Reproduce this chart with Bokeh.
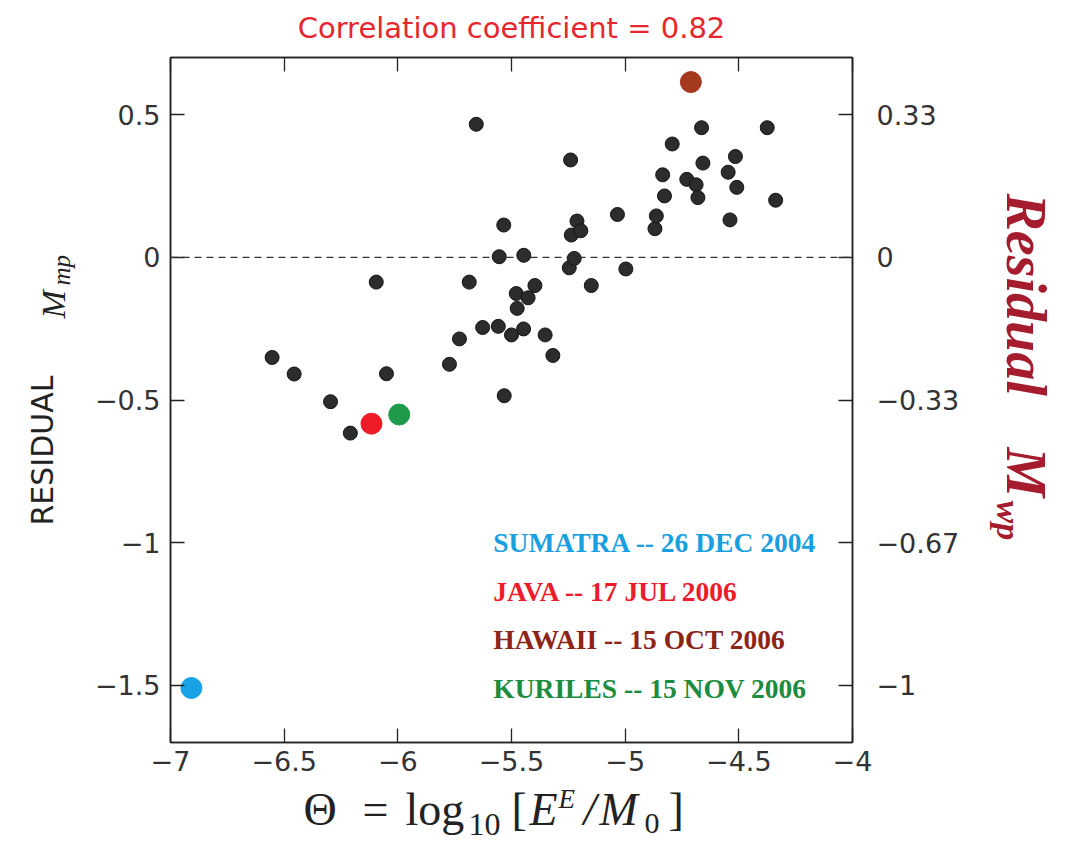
import math
from bokeh.plotting import figure
from bokeh.layouts import row, column
from bokeh.models import Range1d, LinearAxis, FixedTicker, Span, Label, ColumnDataSource
from bokeh.core.properties import value
from bokeh.embed import file_html
from bokeh.resources import INLINE

# ---------------- data ----------------
theta = [-6.553, -6.456, -6.296, -6.209, -6.095, -6.050, -5.773, -5.729, -5.686, -5.655,
         -5.627, -5.558, -5.554, -5.534, -5.532, -5.500, -5.479, -5.475, -5.447, -5.446,
         -5.427, -5.397, -5.352, -5.318, -5.240, -5.246, -5.237, -5.224, -5.212, -5.195,
         -5.149, -5.034, -4.997, -4.869, -4.863, -4.835, -4.827, -4.793, -4.729, -4.688,
         -4.680, -4.664, -4.658, -4.547, -4.539, -4.515, -4.509, -4.375, -4.338]
residual = [-0.351, -0.409, -0.506, -0.616, -0.087, -0.408, -0.375, -0.286, -0.087, 0.466,
            -0.246, -0.242, 0.002, 0.113, -0.485, -0.272, -0.127, -0.179, -0.251, 0.007,
            -0.142, -0.099, -0.272, -0.344, 0.341, -0.037, 0.078, -0.004, 0.127, 0.093,
            -0.099, 0.150, -0.041, 0.100, 0.145, 0.289, 0.215, 0.397, 0.273, 0.254,
            0.209, 0.454, 0.330, 0.298, 0.131, 0.353, 0.245, 0.454, 0.200]

events = ["SUMATRA -- 26 DEC 2004", "JAVA -- 17 JUL 2006",
          "HAWAII -- 15 OCT 2006", "KURILES -- 15 NOV 2006"]
event_theta = [-6.908, -6.116, -4.711, -5.994]
event_residual = [-1.509, -0.583, 0.614, -0.551]
event_colors = ["#1aa2e6", "#ee1c27", "#a5391f", "#1f9a4a"]
event_text_colors = ["#1a9fe0", "#ec1c2a", "#8c2418", "#1c8c3e"]

x_ticks = [-7, -6.5, -6, -5.5, -5, -4.5, -4]
x_tick_labels = ["\u22127", "\u22126.5", "\u22126", "\u22125.5", "\u22125", "\u22124.5", "\u22124"]
y_ticks = [0.5, 0, -0.5, -1, -1.5]
y_tick_labels = ["0.5", "0", "\u22120.5", "\u22121", "\u22121.5"]
mwp_ticks = [1 / 3, 0, -1 / 3, -2 / 3, -1]
mwp_tick_labels = ["0.33", "0", "\u22120.33", "\u22120.67", "\u22121"]

title_text = "Correlation coefficient = 0.82"

# ---------------- layout geometry (page pixels) ----------------
LEFT_W = 80          # left title strip
MAIN_W = 895         # main figure
RIGHT_W = 95         # right title strip
MAIN_H = 783
BOTTOM_H = 60
TOTAL_H = MAIN_H + BOTTOM_H
BORDER_L, BORDER_R = 90, 123
FRAME_L = LEFT_W + BORDER_L            # 170
FRAME_R = LEFT_W + MAIN_W - BORDER_R   # 852

# ---------------- main figure ----------------
p = figure(width=MAIN_W, height=MAIN_H, x_range=Range1d(-7, -4), y_range=Range1d(-1.7, 0.7),
           output_backend="svg", toolbar_location=None,
           min_border_left=BORDER_L, min_border_right=BORDER_R,
           min_border_top=57, min_border_bottom=MAIN_H - 742)
p.extra_y_ranges = {"mwp": Range1d(-1.7 / 1.5, 0.7 / 1.5)}
p.xgrid.visible = False
p.ygrid.visible = False
p.outline_line_color = "#222222"
p.outline_line_width = 1.5
p.background_fill_color = "white"
p.border_fill_color = "white"

p.title.text = title_text
p.title.align = "center"
p.title.vertical_align = "top"
p.title.text_font = "DejaVu Sans"
p.title.text_font_size = "29px"
p.title.text_font_style = "normal"
p.title.text_color = "#e8262d"
p.title.standoff = 21

tick_font = "DejaVu Sans"
tick_size = "27px"
tick_color = "#333333"


def style_axis(ax, labels=True):
    ax.major_tick_in = 14
    ax.major_tick_out = 0
    ax.minor_tick_line_color = None
    ax.major_tick_line_color = "#222222"
    ax.major_tick_line_width = 1.3
    ax.axis_line_color = "#222222"
    ax.axis_line_width = 1.5
    ax.major_label_text_font = tick_font
    if labels:
        ax.major_label_text_font_size = tick_size
        ax.major_label_text_color = tick_color
        ax.major_label_standoff = 10
    else:
        ax.major_label_text_font_size = "1px"
        ax.major_label_text_color = None
        ax.major_label_standoff = 0


xa = p.xaxis[0]
xa.ticker = FixedTicker(ticks=x_ticks)
xa.major_label_overrides = dict(zip(x_ticks, x_tick_labels))
style_axis(xa)
xa.major_label_standoff = 8

ya = p.yaxis[0]
ya.ticker = FixedTicker(ticks=y_ticks)
ya.major_label_overrides = dict(zip(y_ticks, y_tick_labels))
style_axis(ya)

ra = LinearAxis(y_range_name="mwp", ticker=FixedTicker(ticks=mwp_ticks),
                major_label_overrides=dict(zip(mwp_ticks, mwp_tick_labels)))
style_axis(ra)
ra.major_label_standoff = 24
p.add_layout(ra, "right")

ta = LinearAxis(ticker=FixedTicker(ticks=x_ticks))
style_axis(ta, labels=False)
p.add_layout(ta, "above")

# zero line
p.add_layout(Span(location=0, dimension="width", line_color="#333333",
                  line_width=1.3, line_dash="7 5"))

# points
src = ColumnDataSource(dict(x=theta, y=residual))
p.scatter("x", "y", source=src, size=14, fill_color="#2a2d2c", line_color="#151515", line_width=1)

esrc = ColumnDataSource(dict(x=event_theta, y=event_residual, c=event_colors, name=events))
p.scatter("x", "y", source=esrc, size=21, fill_color="c", line_color="c", line_width=1)

# event labels (inside the frame)
leg_x = -5.58
leg_y = [-1.0, -1.17, -1.34, -1.51]
for t, c, yy in zip(events, event_text_colors, leg_y):
    p.add_layout(Label(x=leg_x, y=yy, text=t, text_color=c, text_font="Liberation Serif",
                       text_font_style="bold", text_font_size="27.5px", text_baseline="middle",
                       text_align="left"))


# ---------------- title strips ----------------
def strip(w, h, x0, x1, bl=0, br=0):
    f = figure(width=w, height=h, x_range=Range1d(x0, x1), y_range=Range1d(0, h),
               output_backend="svg", toolbar_location=None, min_border=0,
               min_border_left=bl, min_border_right=br,
               x_axis_type=None, y_axis_type=None)
    f.outline_line_color = None
    f.background_fill_color = "white"
    f.border_fill_color = "white"
    return f


SHIFT = 0.37  # rendered baseline sits this many ems below the anchor


def put(f, oy, h, txt, px, py, font, size, style="normal", color="#222222", rot=0):
    # px, py: page position of the wanted baseline start; rot: 0, +1 (ccw), -1 (cw)
    s = SHIFT * size
    if rot == 0:
        ax, ay, ang = px, py - s, 0.0
    elif rot == 1:
        ax, ay, ang = px - s, py, math.pi / 2
    else:
        ax, ay, ang = px + s, py, -math.pi / 2
    f.text(x=[ax], y=[h - (ay - oy)], text=[txt], angle=ang,
           text_font=value(font), text_font_size=value(f"{size}px"), text_font_style=value(style),
           text_color=color, text_align=value("left"), text_baseline=value("alphabetic"))


serif = "Liberation Serif"

# left: RESIDUAL  M_mp (reads bottom to top)
lf = strip(LEFT_W, TOTAL_H, 0, LEFT_W)
put(lf, 0, TOTAL_H, "RESIDUAL", 53, 525, "DejaVu Sans", 30, rot=1)
put(lf, 0, TOTAL_H, "M", 66, 318, serif, 34, "italic", rot=1)
put(lf, 0, TOTAL_H, "mp", 70, 285, serif, 25, "italic", rot=1)

# right: Residual  M_wp (reads top to bottom)
RX = LEFT_W + MAIN_W
rc = "#a51c2e"
rf = strip(RIGHT_W, TOTAL_H, RX, RX + RIGHT_W)
put(rf, 0, TOTAL_H, "Residual", 1005, 193, serif, 56, "bold italic", rc, rot=-1)
put(rf, 0, TOTAL_H, "M", 1005, 447, serif, 56, "bold italic", rc, rot=-1)
put(rf, 0, TOTAL_H, "wp", 995, 500, serif, 34, "bold italic", rc, rot=-1)

# bottom: Θ = log10 [ E^E / M0 ]  (frame aligned with the main frame, x in page pixels)
bf = strip(MAIN_W, BOTTOM_H, FRAME_L, FRAME_R, BORDER_L, BORDER_R)
bl = 826
put(bf, MAIN_H, BOTTOM_H, "\u0398", 303, bl, serif, 46)
put(bf, MAIN_H, BOTTOM_H, "=", 362, bl, serif, 46)
put(bf, MAIN_H, BOTTOM_H, "log", 405, bl, serif, 46)
put(bf, MAIN_H, BOTTOM_H, "10", 468, 836, serif, 32)
put(bf, MAIN_H, BOTTOM_H, "[", 511, bl, serif, 46)
put(bf, MAIN_H, BOTTOM_H, "E", 529, bl, serif, 46, "italic")
put(bf, MAIN_H, BOTTOM_H, "E", 558, 808, serif, 27, "italic")
put(bf, MAIN_H, BOTTOM_H, "/", 583, bl, serif, 46, "italic")
put(bf, MAIN_H, BOTTOM_H, "M", 599, bl, serif, 46, "italic")
put(bf, MAIN_H, BOTTOM_H, "0", 644, 834, serif, 30)
put(bf, MAIN_H, BOTTOM_H, "]", 668, bl, serif, 46)

layout = row(lf, column(p, bf), rf)
open("out.html", "w").write(file_html(layout, INLINE))
